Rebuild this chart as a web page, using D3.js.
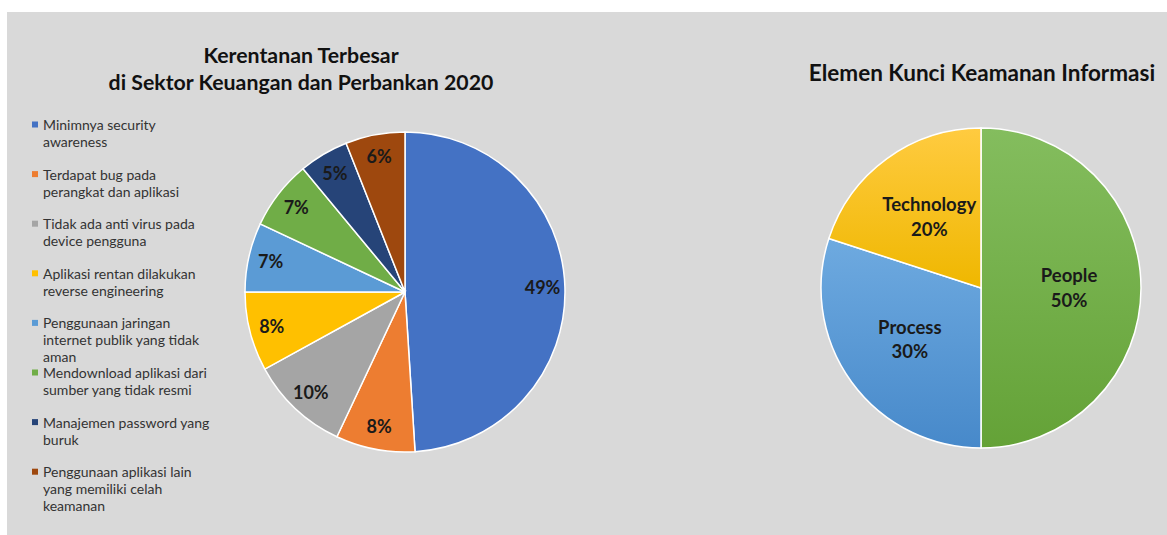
<!DOCTYPE html>
<html>
<head>
<meta charset="utf-8">
<script src="https://cdn.jsdelivr.net/npm/d3@7"></script>
<style>
  body { margin: 0; background: #fff; }
  text { font-family: Lato, "Open Sans", sans-serif; }
</style>
</head>
<body>
<svg id="svgCanvas" width="1167" height="535"></svg>
<script>
// left chart
var vulnLabels = [
	["Minimnya security", "awareness"],
	["Terdapat bug pada", "perangkat dan aplikasi"],
	["Tidak ada anti virus pada", "device pengguna"],
	["Aplikasi rentan dilakukan", "reverse engineering"],
	["Penggunaan jaringan", "internet publik yang tidak", "aman"],
	["Mendownload aplikasi dari", "sumber yang tidak resmi"],
	["Manajemen password yang", "buruk"],
	["Penggunaan aplikasi lain", "yang memiliki celah", "keamanan"]
];
var vulnValues = [49, 8, 10, 8, 7, 7, 5, 6];
var vulnColors = ["#4472c4", "#ed7d31", "#a5a5a5", "#ffc000", "#5b9bd5", "#70ad47", "#264478", "#9e480e"];

// right chart
var elemNames = ["People", "Process", "Technology"];
var elemValues = [50, 30, 20];
var elemColors = [["#84bd5e", "#64a237"], ["#6eaae0", "#4789ca"], ["#ffcb40", "#efb700"]];

var svg = d3.select("#svgCanvas");

svg.append("rect")
	.attr("x", 7).attr("y", 12)
	.attr("width", 1160).attr("height", 523)
	.attr("fill", "#d9d9d9");

var defs = svg.append("defs");
elemColors.forEach(function(c, i){
	var g = defs.append("linearGradient")
		.attr("id", "grad" + i)
		.attr("x1", 0).attr("y1", 0).attr("x2", 0).attr("y2", 1);
	g.append("stop").attr("offset", "0%").attr("stop-color", c[0]);
	g.append("stop").attr("offset", "100%").attr("stop-color", c[1]);
});

// titles
svg.append("text")
	.attr("x", 301).attr("y", 63)
	.attr("text-anchor", "middle")
	.attr("font-size", 21.3).attr("font-weight", "bold").attr("fill", "#111")
	.text("Kerentanan Terbesar");
svg.append("text")
	.attr("x", 301).attr("y", 90)
	.attr("text-anchor", "middle")
	.attr("font-size", 21.3).attr("font-weight", "bold").attr("fill", "#111")
	.text("di Sektor Keuangan dan Perbankan 2020");
svg.append("text")
	.attr("x", 982).attr("y", 81)
	.attr("text-anchor", "middle")
	.attr("font-size", 22.5).attr("font-weight", "bold").attr("fill", "#111")
	.text("Elemen Kunci Keamanan Informasi");

drawPie(svg, {
	cx: 405, cy: 292, r: 160,
	values: vulnValues,
	fill: function(d, i){ return vulnColors[i]; },
	labelR: 0.86,
	label: function(d){ return [d.data + "%"]; },
	fontSize: 18
});

drawPie(svg, {
	cx: 981, cy: 288, r: 160,
	values: elemValues,
	fill: function(d, i){ return "url(#grad" + i + ")"; },
	labelR: 0.55,
	label: function(d, i){ return [elemNames[i], d.data + "%"]; },
	fontSize: 18.5
});

drawLegend(svg, vulnLabels, vulnColors);

function drawPie(svg, opt){
	var pie = d3.pie().sort(null);
	var arcs = pie(opt.values);
	var arc = d3.arc().innerRadius(0).outerRadius(opt.r);
	var labelArc = d3.arc().innerRadius(opt.r * opt.labelR).outerRadius(opt.r * opt.labelR);

	var g = svg.append("g")
		.attr("transform", "translate(" + opt.cx + "," + opt.cy + ")");

	g.selectAll("path")
		.data(arcs)
		.enter().append("path")
			.attr("d", arc)
			.attr("fill", opt.fill)
			.attr("stroke", "#fff")
			.attr("stroke-width", 1.5);

	var lbl = g.selectAll("text.lbl")
		.data(arcs)
		.enter().append("text")
			.attr("class", "lbl")
			.attr("text-anchor", "middle")
			.attr("font-size", opt.fontSize)
			.attr("font-weight", "bold")
			.attr("fill", "#1a1a1a")
			.attr("transform", function(d){ return "translate(" + labelArc.centroid(d) + ")"; });

	lbl.each(function(d, i){
		var lines = opt.label(d, i);
		var t = d3.select(this);
		var lh = 24.5;
		var y0 = -(lines.length - 1) * lh / 2 + opt.fontSize * 0.35;
		lines.forEach(function(s, k){
			t.append("tspan").attr("x", 0).attr("y", y0 + k * lh).text(s);
		});
	});
}

function drawLegend(svg, labels, colors){
	var x0 = 32, y0 = 125, gap = 49.6, lh = 17;
	var g = svg.append("g");
	labels.forEach(function(lines, i){
		var y = y0 + i * gap;
		g.append("rect")
			.attr("x", x0).attr("y", y - 3.5)
			.attr("width", 6).attr("height", 6)
			.attr("fill", colors[i]);
		var t = g.append("text")
			.attr("font-size", 14)
			.attr("fill", "#333");
		lines.forEach(function(s, k){
			t.append("tspan")
				.attr("x", x0 + 11)
				.attr("y", y + k * lh + 5)
				.text(s);
		});
	});
}
</script>
</body>
</html>
